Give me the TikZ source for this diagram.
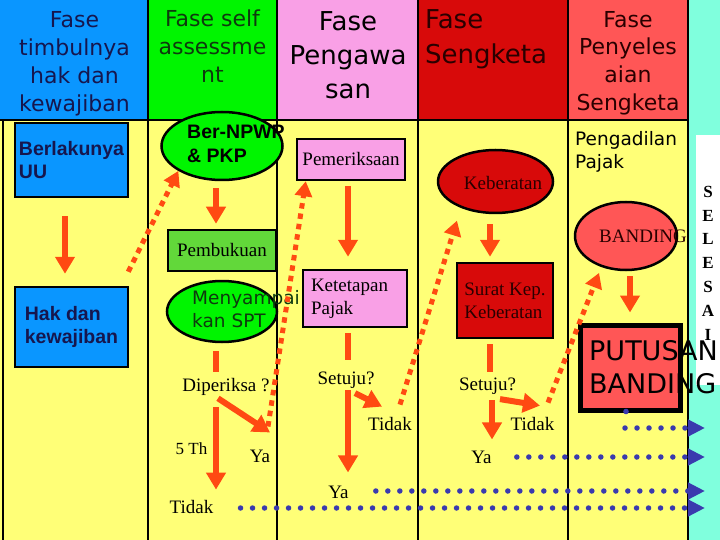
\documentclass[tikz,border=0pt]{standalone}
\usepackage{fontspec}
\setmainfont{Liberation Serif}
\setsansfont{DejaVu Sans}
\newfontfamily\arialf{Liberation Sans}
\usetikzlibrary{arrows.meta,shapes.geometric}
\definecolor{bodyY}{HTML}{FFFF77}
\definecolor{aqua}{HTML}{80FFDD}
\definecolor{hBlue}{HTML}{0A96FF}
\definecolor{hGreen}{HTML}{00F500}
\definecolor{bGreen}{HTML}{62D83A}
\definecolor{hPink}{HTML}{F9A0E6}
\definecolor{hDark}{HTML}{D80A0A}
\definecolor{hSalmon}{HTML}{FF5656}
\definecolor{arrR}{HTML}{FF4A12}
\definecolor{dotB}{HTML}{3A3AAE}
\definecolor{navyT}{HTML}{16164E}
\definecolor{greenT}{HTML}{0E3A0E}
\definecolor{redT}{HTML}{2A0000}
\begin{document}
\begin{tikzpicture}[x=1pt,y=-1pt,
  hdr/.style={align=center,inner sep=0pt},
  lbl/.style={inner sep=0pt,font=\fontsize{19}{23}\selectfont},
  boxn/.style={draw=black,line width=2.5pt,rectangle,inner sep=0pt},
  elln/.style={draw=black,line width=2.5pt,ellipse,inner sep=0pt},
  redar/.style={draw=arrR,line width=6pt,-{Triangle[width=19pt,length=17pt]}},
  redln/.style={draw=arrR,line width=6pt},
  dotar/.style={draw=arrR,line width=5pt,dash pattern=on 5.5pt off 5pt,-{Triangle[width=17pt,length=15pt]}},
  bdot/.style={draw=dotB,line width=5.5pt,line cap=round,dash pattern=on 0pt off 12pt,-{Triangle[width=16pt,length=17pt]}},
  sepln/.style={line width=2pt}
]
\useasboundingbox (0,0) rectangle (720,540);
% backgrounds
\fill[bodyY] (0,120) rectangle (688,540);
\fill[aqua] (688,0) rectangle (720,540);
\fill[hBlue] (0,0) rectangle (148,120);
\fill[hGreen] (148,0) rectangle (277,120);
\fill[hPink] (277,0) rectangle (418,120);
\fill[hDark] (418,0) rectangle (568,120);
\fill[hSalmon] (568,0) rectangle (688,120);
\fill[white] (696,135) rectangle (720,385);
\draw[sepln] (0,120) -- (688,120);
\draw[sepln] (2.5,120) -- (2.5,540);
\foreach \xx in {148,277,418,568,688} \draw[sepln] (\xx,0) -- (\xx,540);
% headers
\node[hdr,text=navyT,font=\sffamily\fontsize{22}{28}\selectfont] (h1) at (74.5,63.5) {Fase\\timbulnya\\hak dan\\kewajiban};
\node[hdr,text=greenT,font=\sffamily\fontsize{22}{28}\selectfont] (h2) at (212.5,46.5) {Fase self\\assessme\\nt};
\node[hdr,text=black,font=\sffamily\fontsize{26}{34}\selectfont] (h3) at (348,55) {Fase\\Pengawa\\san};
\node[hdr,text=redT,font=\sffamily\fontsize{26}{35}\selectfont,align=left,anchor=west] (h4) at (425,39) {Fase\\Sengketa};
\node[hdr,text=redT,font=\sffamily\fontsize{22}{27.7}\selectfont] (h5) at (628,63) {Fase\\Penyeles\\aian\\Sengketa};
% column 1
\node[boxn,fill=hBlue,minimum width=113pt,minimum height=74pt,align=left,text=navyT,font=\arialf\bfseries\fontsize{19.5}{23}\selectfont] (uu) at (71.5,160) {Berlakunya\\UU};
\node[boxn,fill=hBlue,minimum width=113pt,minimum height=80pt,align=left,text=navyT,font=\arialf\bfseries\fontsize{19.5}{23}\selectfont] (hak) at (71.5,327) {Hak dan\\kewajiban};
% column 2
\node[elln,fill=hGreen,minimum width=121pt,minimum height=68pt] (npwp) at (222,146) {};
\node[inner sep=0pt,anchor=west,align=left,text=black,font=\arialf\bfseries\fontsize{19.5}{24}\selectfont] (npwpT) at (187,143.5) {Ber-NPWP\\\& PKP};
\node[boxn,fill=bGreen,minimum width=108pt,minimum height=41pt,font=\fontsize{19}{23}\selectfont] (pemb) at (222,250.5) {Pembukuan};
\node[elln,fill=hGreen,minimum width=110pt,minimum height=61pt] (spt) at (222,311.5) {};
\node[inner sep=0pt,anchor=west,align=left,text=greenT,font=\sffamily\fontsize{18.5}{23}\selectfont] (sptT) at (192,309.5) {Menyampai\\kan SPT};
\node[lbl] (dip) at (226,386.5) {Diperiksa ?};
\node[lbl,font=\fontsize{17}{20}\selectfont] (th5) at (191.5,448.5) {5 Th};
\node[lbl] (ya2) at (260,456) {Ya};
\node[lbl] (tidak2) at (191.5,506.5) {Tidak};
% column 3
\node[boxn,fill=hPink,minimum width=108pt,minimum height=41pt,font=\fontsize{19}{23}\selectfont] (pem) at (351,159.5) {Pemeriksaan};
\node[boxn,fill=hPink,minimum width=104pt,minimum height=57pt,text width=88pt,inner xsep=8pt,align=left,font=\fontsize{19}{23}\selectfont] (ket) at (355,298.5) {Ketetapan\\Pajak};
\node[lbl] (set3) at (346,380.6) {Setuju?};
\node[lbl] (tid3) at (390,423.5) {Tidak};
\node[lbl] (ya3) at (338.5,492) {Ya};
% column 4
\node[elln,fill=hDark,minimum width=115pt,minimum height=63pt] (kebe) at (495.5,181.5) {};
\node[lbl,text=redT] (kebeT) at (503,182.7) {Keberatan};
\node[boxn,fill=hDark,minimum width=96pt,minimum height=75pt,align=left,text=redT,font=\fontsize{19}{23}\selectfont] (skk) at (505,300.5) {Surat Kep.\\Keberatan};
\node[lbl] (set4) at (487.5,386.6) {Setuju?};
\node[lbl] (tid4) at (532.5,423.5) {Tidak};
\node[lbl] (ya4) at (481.5,457) {Ya};
% column 5
\node[inner sep=0pt,anchor=west,align=left,font=\sffamily\fontsize{18.5}{23}\selectfont] (peng) at (575,151.5) {Pengadilan\\Pajak};
\node[elln,fill=hSalmon,minimum width=102pt,minimum height=68pt] (band) at (626,236) {};
\node[lbl,text=redT] (bandT) at (643,236.7) {BANDING};
\node[draw=black,line width=5pt,fill=hSalmon,minimum width=100pt,minimum height=85pt,inner sep=0pt] (put) at (630,367.5) {};
\node[inner sep=0pt,align=left,anchor=west,font=\sffamily\fontsize{27}{33}\selectfont] (putT) at (589,366.7) {PUTUSAN\\BANDING};
\node[inner sep=0pt,align=center,font=\bfseries\fontsize{17}{23.8}\selectfont] (sel) at (708,263) {S\\E\\L\\E\\S\\A\\I};
% solid red arrows
\draw[redar] ([xshift=-6.5pt,yshift=-18pt]uu.south) -- ([xshift=-6.5pt,yshift=12pt]hak.north);
\draw[redar] ([xshift=-6pt,yshift=-7pt]npwp.south) -- ([xshift=-6pt,yshift=5pt]pemb.north);
\draw[redln] ([xshift=-6pt,yshift=-8pt]spt.south) -- ([xshift=-10pt,yshift=6pt]dip.north);
\draw[redar] ([xshift=-8pt,yshift=-3pt]dip.south) -- ([xshift=10pt,yshift=17pt]ya2.north);
\draw[redar] ([xshift=-10pt,yshift=-12pt]dip.south) -- ([xshift=24.5pt,yshift=10pt]tidak2.north);
\draw[redar] ([xshift=-3pt,yshift=-5pt]pem.south) -- ([xshift=-7pt,yshift=12pt]ket.north);
\draw[redln] ([xshift=-7pt,yshift=-5pt]ket.south) -- ([xshift=2pt,yshift=12pt]set3.north);
\draw[redar] ([xshift=9pt,yshift=-4pt]set3.south) -- ([xshift=-8pt,yshift=10pt]tid3.north);
\draw[redar] ([xshift=2pt,yshift=-1pt]set3.south) -- ([xshift=9.5pt,yshift=13pt]ya3.north);
\draw[redar] ([xshift=-5.5pt,yshift=-10pt]kebe.south) -- ([xshift=-15pt,yshift=5pt]skk.north);
\draw[redln] ([xshift=-15pt,yshift=-5pt]skk.south) -- ([xshift=2.5pt,yshift=6pt]set4.north);
\draw[redar] ([xshift=12.5pt,yshift=-4pt]set4.south) -- ([xshift=7.5pt,yshift=11pt]tid4.north);
\draw[redar] ([xshift=4.5pt,yshift=-5pt]set4.south) -- ([xshift=10.5pt,yshift=11pt]ya4.north);
\draw[redar] ([xshift=4pt,yshift=-5pt]band.south) -- ([yshift=10pt]put.north);
% dotted orange arrows
\draw[dotar] ([xshift=-1pt,yshift=14pt]hak.north east) -- (npwp.south west);
\draw[dotar] ([xshift=8pt,yshift=23pt]ya2.north) -- ([xshift=10pt]pem.south west);
\draw[dotar] ([xshift=10pt,yshift=12pt]tid3.north) -- ([xshift=3pt,yshift=-16pt]kebe.south west);
\draw[dotar] ([xshift=15.5pt,yshift=14pt]tid4.north) -- ([xshift=10pt,yshift=-12pt]band.south west);
% blue dotted arrows
\coordinate (e1) at (705,508);
\coordinate (e2) at (705,491);
\coordinate (e3) at (705,457);
\coordinate (e4) at (705,428);
\draw[bdot] ([xshift=27pt,yshift=-1.5pt]tidak2.east) -- (e1);
\draw[bdot] ([xshift=27pt,yshift=1pt]ya3.east) -- (e2);
\draw[bdot] ([xshift=25pt]ya4.east) -- (e3);
\fill[dotB] ([xshift=-4pt,yshift=1pt]put.south) circle (2.8);
\draw[bdot] ([xshift=-5pt,yshift=-15.5pt]put.south) -- (e4);
\end{tikzpicture}
\end{document}
